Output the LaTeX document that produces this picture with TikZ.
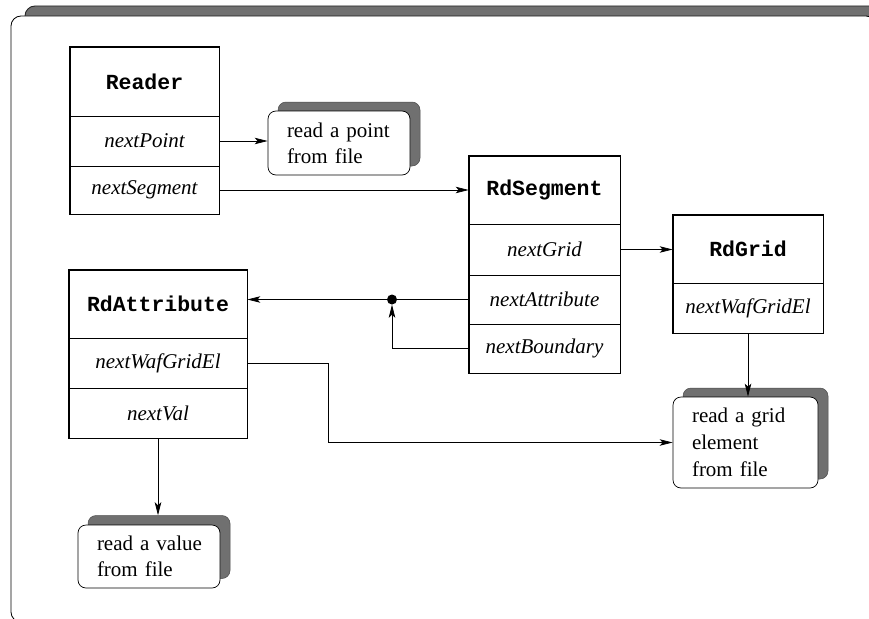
\documentclass[tikz,border=0pt]{standalone}
\usepackage{fontspec}
\setmainfont{Liberation Serif}
\newfontfamily\monofam{Liberation Mono}
\usetikzlibrary{arrows.meta}
\definecolor{shadowgray}{HTML}{707070}
\tikzset{
  every node/.style={font=\fontsize{21}{26}\selectfont},
  comp/.style={draw, line width=0.7pt, inner sep=0pt, rectangle, font=\fontsize{21}{26}\selectfont\itshape},
  ctitle/.style={draw, line width=0.7pt, inner sep=0pt, rectangle, font=\fontsize{21.5}{26}\selectfont\monofam\bfseries},
  frame/.style={draw, line width=1.6pt},
  arr/.style={line width=0.75pt, -{Stealth[length=13pt,width=6.5pt,inset=3pt]}},
  notebox/.style={draw, line width=0.7pt, fill=white, rounded corners=8pt, inner xsep=16pt, inner ysep=0pt, align=left},
  noteshadow/.style={draw=black!70, line width=0.5pt, fill=shadowgray, rounded corners=8pt, inner sep=0pt},
  jdot/.style={circle, fill=black, inner sep=0pt, minimum size=10pt}
}
\begin{document}
\begin{tikzpicture}[x=1pt,y=-1pt]
\useasboundingbox (0,0) rectangle (869,618);
\clip (0,0) rectangle (869,618);
% outer frame
\fill[shadowgray, draw=black!85, line width=0.9pt, rounded corners=10pt] (25,6) rectangle (900,640);
\draw[fill=white, line width=0.8pt, rounded corners=10pt] (11,16) rectangle (876,622);

% Reader
\node[ctitle, minimum width=149pt, minimum height=69pt] (rt) at (144.5,81.5) {Reader};
\node[comp, minimum width=149pt, minimum height=50pt] (rp) at (144.5,141) {nextPoint};
\node[comp, minimum width=149pt, minimum height=48pt] (rs) at (144.5,190) {nextSegment};
\draw[frame] (rt.north west) rectangle (rs.south east);

% RdSegment
\node[ctitle, minimum width=151pt, minimum height=68pt] (st) at (544.5,190) {RdSegment};
\node[comp, minimum width=151pt, minimum height=51pt] (sg) at (544.5,249.5) {nextGrid};
\node[comp, minimum width=151pt, minimum height=49pt] (sa) at (544.5,299.5) {nextAttribute};
\node[comp, minimum width=151pt, minimum height=49pt] (sb) at (544.5,348.5) {nextBoundary};
\draw[frame] (st.north west) rectangle (sb.south east);

% RdGrid
\node[ctitle, minimum width=150pt, minimum height=68pt] (gt) at (748,249) {RdGrid};
\node[comp, minimum width=150pt, minimum height=50pt] (gw) at (748,308) {nextWafGridEl};
\draw[frame] (gt.north west) rectangle (gw.south east);

% RdAttribute
\node[ctitle, minimum width=178pt, minimum height=68pt] (at) at (158,304) {RdAttribute};
\node[comp, minimum width=178pt, minimum height=50pt] (aw) at (158,363) {nextWafGridEl};
\node[comp, minimum width=178pt, minimum height=50pt] (av) at (158,413) {nextVal};
\draw[frame] (at.north west) rectangle (av.south east);

% notes
\node[noteshadow, minimum width=142pt, minimum height=64pt] (ps) at (349,134) {};
\node[notebox, minimum width=142pt, minimum height=64pt, text width=110pt] (pn) at (339,143) {\hspace*{3pt}read a point\\\hspace*{3pt}from file};

\node[noteshadow, minimum width=145pt, minimum height=91pt] (gs) at (755.5,433.5) {};
\node[notebox, minimum width=145pt, minimum height=91pt, text width=113pt, font=\fontsize{21}{27}\selectfont] (gn) at (745.5,442.5) {\hspace*{3pt}read a grid\\\hspace*{3pt}element\\\hspace*{3pt}from file};

\node[noteshadow, minimum width=142pt, minimum height=63pt] (vs) at (159,547) {};
\node[notebox, minimum width=142pt, minimum height=63pt, text width=110pt] (vn) at (149,556.5) {\hspace*{3pt}read a value\\\hspace*{3pt}from file};

% connectors
\draw[arr] (rp.east) -- (rp.east -| pn.west);
\draw[arr] (rs.east) -- (rs.east -| st.west);
\draw[arr] (sg.east) -- (sg.east -| gt.west);
\node[jdot] (jd) at (392,299.5) {};
\draw[arr] (sa.west) -- (sa.west -| at.east);
\draw[arr] (sb.west) -| (jd.south);
\coordinate (bend) at (328,0);
\draw[arr] (aw.east) -- (aw.east -| bend) |- (gn.west);
\draw[arr] (gw.south) -- (gw.south |- gn.north);
\draw[arr] (av.south) -- (av.south |- vs.north);
\end{tikzpicture}
\end{document}
